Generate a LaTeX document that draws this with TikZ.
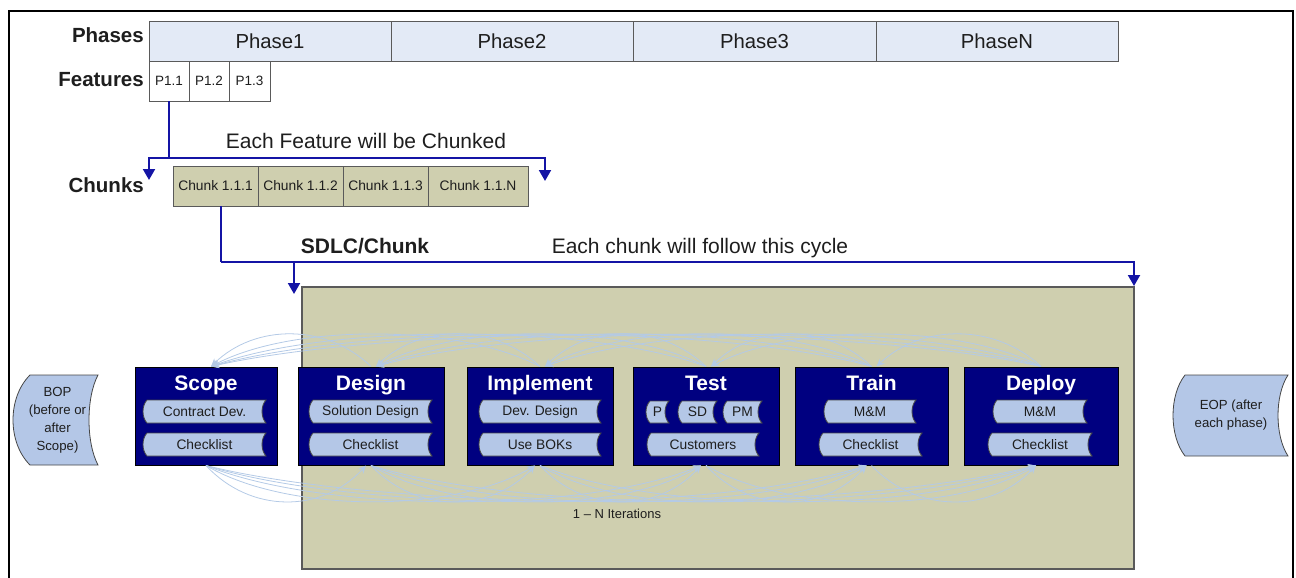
\documentclass[tikz,border=0pt]{standalone}
\usepackage{fontspec}
\setmainfont{Liberation Sans}
\usetikzlibrary{arrows.meta,calc}
\definecolor{phasefill}{RGB}{227,234,246}
\definecolor{khaki}{RGB}{207,207,175}
\definecolor{navybg}{RGB}{0,0,128}
\definecolor{itemblue}{RGB}{180,199,231}
\definecolor{connblue}{RGB}{20,20,165}
\definecolor{arcblue}{RGB}{180,202,230}
\definecolor{gray60}{RGB}{90,90,90}
\definecolor{gray40}{RGB}{70,70,70}
\definecolor{txt}{RGB}{30,30,30}
% stored-data shape: name, x1, x2, ytop, ybot, left bulge, right bulge, text
\newcommand\sditem[8]{%
  \filldraw[sdfill] ({#2+#6},-#4) -- (#3,-#4)
    .. controls ({#3-1.333*#7},{-#4-(#5-#4)/4}) and ({#3-1.333*#7},{-#5+(#5-#4)/4}) .. (#3,-#5)
    -- ({#2+#6},-#5)
    .. controls ({#2-0.333*#6},{-#5+(#5-#4)/4}) and ({#2-0.333*#6},{-#4-(#5-#4)/4}) .. cycle;
  \node[sdtext] (#1) at ({(#2+#3)/2+(#6-#7)/4},{-(#4+#5)/2}) {#8};}
\begin{document}
\begin{tikzpicture}[x=1pt,y=1pt,
  cell/.style={draw=gray60, line width=0.8pt, inner sep=0, minimum height=40pt, text=txt},
  phasecell/.style={cell, fill=phasefill, minimum width=242pt, font=\fontsize{20.3}{24}\selectfont},
  featcell/.style={cell, fill=white, minimum width=40pt, font=\fontsize{13.5}{16}\selectfont},
  chunkcell/.style={cell, fill=khaki, font=\fontsize{13.8}{16}\selectfont},
  rowlabel/.style={anchor=base east, font=\bfseries\fontsize{20.5}{24}\selectfont, inner sep=0, text=txt},
  note/.style={anchor=base, font=\fontsize{21}{24}\selectfont, inner sep=0, text=txt},
  conn/.style={draw=connblue, line width=2pt},
  connarrow/.style={conn, -{Triangle[length=11pt,width=12pt]}},
  bigbox/.style={draw=gray60, line width=1.5pt, fill=khaki, minimum width=832pt, minimum height=282pt, inner sep=0},
  navybox/.style={draw=black, line width=1pt, fill=navybg, minimum height=98pt, inner sep=0},
  boxtitle/.style={anchor=base, text=white, font=\bfseries\fontsize{21}{24}\selectfont, inner sep=0},
  sdfill/.style={fill=itemblue, draw=gray40, line width=0.8pt},
  sdtext/.style={font=\fontsize{13.8}{18}\selectfont, align=center, inner sep=0, text=txt},
  arc/.style={draw=arcblue, line width=0.8pt, -{Stealth[length=8pt,width=7pt]}}
]
\useasboundingbox (0,0) rectangle (1296,-578);
% outer frame
\draw[line width=2.5pt] (9,-578) -- (9,-11) -- (1293,-11) -- (1293,-578);

% labels
\node[rowlabel] (lphases) at (144,-43) {Phases};
\node[rowlabel] (lfeat) at (144,-87) {Features};
\node[rowlabel] (lchunks) at (144,-192) {Chunks};

% phases
\node[phasecell] (ph1) at (270,-41) {Phase1};
\node[phasecell] (ph2) at (512,-41) {Phase2};
\node[phasecell, minimum width=243pt] (ph3) at (754.5,-41) {Phase3};
\node[phasecell] (phn) at (997,-41) {PhaseN};

% features
\node[featcell] (p11) at (169,-81) {P1.1};
\node[featcell] (p12) at (209,-81) {P1.2};
\node[featcell, minimum width=41pt] (p13) at (249.5,-81) {P1.3};

% chunks
\node[chunkcell, minimum width=85pt] (c111) at (215.5,-186) {Chunk 1.1.1};
\node[chunkcell, minimum width=85pt] (c112) at (300.5,-186) {Chunk 1.1.2};
\node[chunkcell, minimum width=85pt] (c113) at (385.5,-186) {Chunk 1.1.3};
\node[chunkcell, minimum width=100pt] (c11n) at (478,-186) {Chunk 1.1.N};

% notes
\node[note] (nchunked) at (366,-148) {Each Feature will be Chunked};
\node[note, font=\bfseries\fontsize{21}{24}\selectfont] (nsdlc) at (365,-253) {SDLC/Chunk};
\node[note] (ncycle) at (700,-253) {Each chunk will follow this cycle};

% connectors feature -> chunks
\draw[conn] (p11.south) -- ++(0,-57) coordinate (j1);
\coordinate (fa) at (149,-180);
\coordinate (fb) at (545,-181);
\draw[connarrow] (j1) -| (fa);
\draw[connarrow] (j1) -| (fb);

% big SDLC box
\node[bigbox] (sdlc) at (718,-428) {};

% connectors chunk -> cycle
\draw[conn] ([xshift=5.5pt]c111.south) -- ++(0,-56) coordinate (j2);
\coordinate (ta) at (294,-294);
\coordinate (tb) at (1134,-286);
\draw[connarrow] (j2) -| (ta);
\draw[connarrow] (j2) -| (tb);

% navy boxes
\node[navybox, minimum width=142pt] (sc) at (206,-416) {};
\node[navybox, minimum width=146pt] (dg) at (371,-416) {};
\node[navybox, minimum width=146pt] (im) at (540,-416) {};
\node[navybox, minimum width=146pt] (ts) at (706,-416) {};
\node[navybox, minimum width=153pt] (tr) at (871.5,-416) {};
\node[navybox, minimum width=154pt] (dp) at (1041,-416) {};

\node[boxtitle] (tsc) at (206,-390) {Scope};
\node[boxtitle] (tdg) at (371,-390) {Design};
\node[boxtitle] (tim) at (540,-390) {Implement};
\node[boxtitle] (tts) at (706,-390) {Test};
\node[boxtitle] (ttr) at (871.5,-390) {Train};
\node[boxtitle] (tdp) at (1041,-390) {Deploy};

% items
\sditem{sc1}{143}{266}{400}{423}{4}{4}{Contract Dev.}
\sditem{sc2}{143}{266}{433}{456}{4}{4}{Checklist}
\sditem{dg1}{309}{432}{400}{423}{4}{4}{Solution Design}
\sditem{dg2}{309}{432}{433}{456}{4}{4}{Checklist}
\sditem{im1}{479}{601}{400}{423}{4}{4}{Dev. Design}
\sditem{im2}{479}{601}{433}{456}{4}{4}{Use BOKs}
\sditem{ts1}{646}{669}{401}{423}{4}{4}{P}
\sditem{ts2}{678}{717}{401}{423}{4}{4}{SD}
\sditem{ts3}{723}{762}{401}{423}{4}{4}{PM}
\sditem{ts4}{647}{759}{433}{456}{4}{4}{Customers}
\sditem{tr1}{824}{916}{400}{423}{4}{4}{M\&M}
\sditem{tr2}{819}{922}{433}{456}{4}{4}{Checklist}
\sditem{dp1}{993}{1087}{400}{423}{4}{4}{M\&M}
\sditem{dp2}{988}{1092}{433}{456}{4}{4}{Checklist}

% BOP / EOP
\begin{scope}[sdtext/.append style={font=\fontsize{13.2}{18}\selectfont}]
\sditem{bop}{13}{98}{375}{465}{17}{9}{BOP\\(before or\\after\\Scope)}
\sditem{eop}{1173}{1288}{375}{456}{12}{10}{EOP (after\\each phase)}
\end{scope}

% iteration arcs
\foreach \a [count=\i] in {sc,dg,im,ts,tr,dp}{
  \foreach \b [count=\j] in {sc,dg,im,ts,tr,dp}{
    \ifnum\j>\i
      \draw[arc] let \p1=(\a.north), \p2=(\b.north), \n1={0.22*(\x2-\x1)+8} in
        (\p2) .. controls +(-\n1,43) and +(\n1,43) .. ([xshift=5pt]\a.north);
      \draw[arc] let \p1=(\a.south), \p2=(\b.south), \n1={0.22*(\x2-\x1)+8} in
        (\p1) .. controls +(\n1,-48) and +(-\n1,-48) .. ([xshift=-5pt]\b.south);
    \fi
  }
}
\node[font=\fontsize{13}{16}\selectfont, text=txt, inner sep=0] (iter) at (617,-514) {1 -- N Iterations};
\end{tikzpicture}
\end{document}
